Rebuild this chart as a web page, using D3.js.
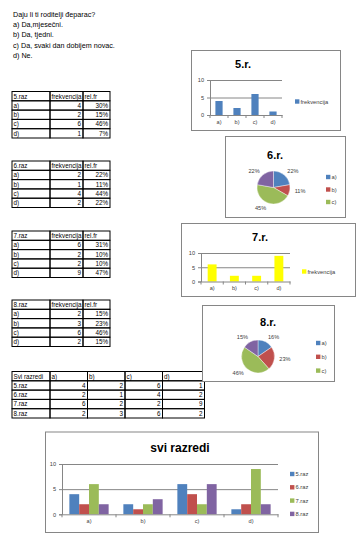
<!DOCTYPE html>
<html>
<head>
<meta charset="utf-8">
<script src="https://cdn.jsdelivr.net/npm/d3@7"></script>
<style>
  body { margin: 0; background: #fff; }
  text { font-family: "Liberation Sans", Arial, sans-serif; }
</style>
</head>
<body>
<div id="chart"></div>
<script>
const question = ['Daju li ti roditelji đeparac?', 'a) Da,mjesečni.', 'b) Da, tjedni.', 'c) Da, svaki dan dobijem novac.', 'd) Ne.']
const answers = ['a)', 'b)', 'c)', 'd)']
const classes = ['5.raz', '6.raz', '7.raz', '8.raz']
const freq5 = [4, 2, 6, 1], rel5 = ['30%', '15%', '46%', '7%']
const freq6 = [2, 1, 4, 2], rel6 = ['22%', '11%', '44%', '22%']
const freq7 = [6, 2, 2, 9], rel7 = ['31%', '10%', '10%', '47%']
const freq8 = [2, 3, 6, 2], rel8 = ['15%', '23%', '46%', '15%']
const pie6Labels = ['22%', '11%', '45%', '22%']
const pie8Labels = ['16%', '23%', '46%', '15%']
const yTicks = [0, 5, 10]

const colors = ['#4f81bd', '#c0504d', '#9bbb59', '#8064a2']
const yellow = '#ffff00'
const axisGray = '#868686'
const textGray = '#404040'

const svg = d3.select('#chart')
    .append('svg')
    .attr('width', 363)
    .attr('height', 544)
    .style('background', '#fff')

// question text
svg.append('g').selectAll('text')
    .data(question)
    .enter()
    .append('text')
    .attr('x', 13)
    .attr('y', (_, i) => 16.5 + i * 10.4)
    .style('font-size', '7.2px')
    .text(d => d)

// ---- tables
const rowH = 9.3

function drawTable(x0, y0, colW, rows, alignRight) {
    const g = svg.append('g')
    const xs = [x0]
    colW.forEach(w => xs.push(xs[xs.length - 1] + w))
    rows.forEach((row, r) => {
        row.forEach((cell, c) => {
            g.append('rect')
                .attr('x', xs[c]).attr('y', y0 + r * rowH)
                .attr('width', colW[c]).attr('height', rowH)
                .attr('fill', 'none').attr('stroke', '#000').attr('stroke-width', 1)
            const right = r > 0 && alignRight(c)
            g.append('text')
                .attr('x', right ? xs[c + 1] - 2 : xs[c] + 1.5)
                .attr('y', y0 + r * rowH + 7)
                .attr('text-anchor', right ? 'end' : 'start')
                .style('font-size', '6.3px')
                .text(cell)
        })
    })
}

const singleTables = [
    { name: classes[0], freq: freq5, rel: rel5, top: 91.5 },
    { name: classes[1], freq: freq6, rel: rel6, top: 161 },
    { name: classes[2], freq: freq7, rel: rel7, top: 231 },
    { name: classes[3], freq: freq8, rel: rel8, top: 300 }
]
singleTables.forEach(t => {
    const rows = [[t.name, 'frekvencija', 'rel.fr']]
    answers.forEach((a, i) => rows.push([a, t.freq[i], t.rel[i]]))
    drawTable(12, t.top, [38, 33, 27], rows, c => c > 0)
})

const allFreq = [freq5, freq6, freq7, freq8]
const sviRows = [['Svi razredi'].concat(answers)]
classes.forEach((c, i) => sviRows.push([c].concat(allFreq[i])))
drawTable(12, 371.5, [38, 37.5, 37.5, 37.5, 42], sviRows, c => c > 0)

// ---- chart boxes
function box(x0, y0, x1, y1) {
    svg.append('rect')
        .attr('x', x0 + 0.5).attr('y', y0 + 0.5)
        .attr('width', x1 - x0).attr('height', y1 - y0)
        .attr('fill', '#fff').attr('stroke', axisGray).attr('stroke-width', 1)
}

function title(txt, x, y, size) {
    svg.append('text')
        .attr('x', x).attr('y', y)
        .attr('text-anchor', 'middle')
        .style('font-size', size + 'px')
        .style('font-weight', 'bold')
        .text(txt)
}

function legend(items, x, y, gap) {
    const g = svg.append('g')
    items.forEach((it, i) => {
        g.append('rect')
            .attr('x', x).attr('y', y + i * gap - 2.2)
            .attr('width', 4.4).attr('height', 4.4)
            .attr('fill', it.color)
        g.append('text')
            .attr('x', x + 5.5).attr('y', y + i * gap + 2)
            .style('font-size', '5.8px')
            .attr('fill', textGray)
            .text(it.name)
    })
}

function barChart(o) {
    const g = svg.append('g')
    const y = d3.scaleLinear().domain([0, 10]).range([o.y0, o.y1])
    const x = d3.scaleBand().domain(answers).range([o.x0, o.x1])
    const n = o.series.length
    // excel gap width 150%
    const barW = x.step() / (n + 1.5)

    // gridlines
    g.append('g')
        .attr('transform', 'translate(' + o.x0 + ',0)')
        .call(d3.axisLeft(y).tickValues([5, 10]).tickSize(-(o.x1 - o.x0)).tickFormat(''))
        .call(a => a.select('.domain').remove())
        .call(a => a.selectAll('line').attr('stroke', axisGray))

    o.series.forEach((s, si) => {
        g.selectAll(null)
            .data(s.values)
            .enter()
            .append('rect')
            .attr('x', (_, i) => x(answers[i]) + x.step() / 2 - barW * n / 2 + si * barW)
            .attr('y', d => y(d))
            .attr('width', barW)
            .attr('height', d => o.y0 - y(d))
            .attr('fill', s.color)
    })

    // y axis
    g.append('g')
        .attr('transform', 'translate(' + o.x0 + ',0)')
        .call(d3.axisLeft(y).tickValues(yTicks).tickSize(3).tickPadding(3))
        .call(a => a.select('.domain').attr('stroke', axisGray))
        .call(a => a.selectAll('line').attr('stroke', axisGray))
        .call(a => a.selectAll('text').attr('fill', textGray).style('font-size', '5.6px').style('font-family', '"Liberation Sans", Arial, sans-serif'))

    // x axis
    g.append('g')
        .attr('transform', 'translate(0,' + o.y0 + ')')
        .call(d3.axisBottom(x).tickSize(0).tickPadding(5))
        .call(a => a.select('.domain').attr('stroke', axisGray))
        .call(a => a.selectAll('text').attr('fill', textGray).style('font-size', '5.6px').style('font-family', '"Liberation Sans", Arial, sans-serif'))
    g.append('g').selectAll('line')
        .data(d3.range(answers.length + 1))
        .enter()
        .append('line')
        .attr('x1', i => o.x0 + i * x.step()).attr('x2', i => o.x0 + i * x.step())
        .attr('y1', o.y0).attr('y2', o.y0 + 3)
        .attr('stroke', axisGray)
}

function pieChart(o) {
    const g = svg.append('g').attr('transform', 'translate(' + o.cx + ',' + o.cy + ')')
    const arcs = d3.pie().sort(null)(o.values)
    const arc = d3.arc().innerRadius(0).outerRadius(o.r)
    g.selectAll('path')
        .data(arcs)
        .enter()
        .append('path')
        .attr('d', arc)
        .attr('fill', (_, i) => colors[i])
        .attr('stroke', '#fff')
        .attr('stroke-width', 0.4)
    const lab = d3.arc().innerRadius(o.r + 5).outerRadius(o.r + 5)
    g.selectAll('text')
        .data(arcs)
        .enter()
        .append('text')
        .attr('x', d => lab.centroid(d)[0])
        .attr('y', d => lab.centroid(d)[1] + 2)
        .attr('text-anchor', d => (d.startAngle + d.endAngle) / 2 > Math.PI ? 'end' : 'start')
        .style('font-size', '5.6px')
        .attr('fill', textGray)
        .text((_, i) => o.labels[i])
}

// 5.r.
box(191, 50, 340, 130)
title('5.r.', 243, 68, 11)
barChart({ x0: 210, x1: 282, y0: 115, y1: 80, series: [{ name: 'frekvencija', values: freq5, color: colors[0] }] })
legend([{ name: 'frekvencija', color: colors[0] }], 295, 101.5, 0)

// 6.r.
box(225, 136, 345, 217)
title('6.r.', 275, 159, 11)
pieChart({ cx: 273.5, cy: 187.5, r: 16.5, values: freq6, labels: pie6Labels })
legend(answers.slice(0, 3).map((a, i) => ({ name: a, color: colors[i] })), 326, 177, 12.5)

// 7.r.
box(181, 223, 355, 296)
title('7.r.', 260, 241, 11)
barChart({ x0: 201, x1: 290, y0: 281.5, y1: 253, series: [{ name: 'frekvencija', values: freq7, color: yellow }] })
legend([{ name: 'frekvencija', color: yellow }], 302, 271.5, 0)

// 8.r.
box(202, 305, 334, 381)
title('8.r.', 268, 326, 11)
pieChart({ cx: 258, cy: 356.5, r: 16.5, values: freq8, labels: pie8Labels })
legend(answers.slice(0, 3).map((a, i) => ({ name: a, color: colors[i] })), 316, 343, 13.8)

// svi razredi
box(45, 431.5, 318, 532)
title('svi razredi', 180, 452, 12)
barChart({
    x0: 62, x1: 278, y0: 514.3, y1: 464,
    series: classes.map((c, i) => ({ name: c, values: allFreq[i], color: colors[i] }))
})
legend(classes.map((c, i) => ({ name: c, color: colors[i] })), 290, 474, 13.3)
</script>
</body>
</html>
